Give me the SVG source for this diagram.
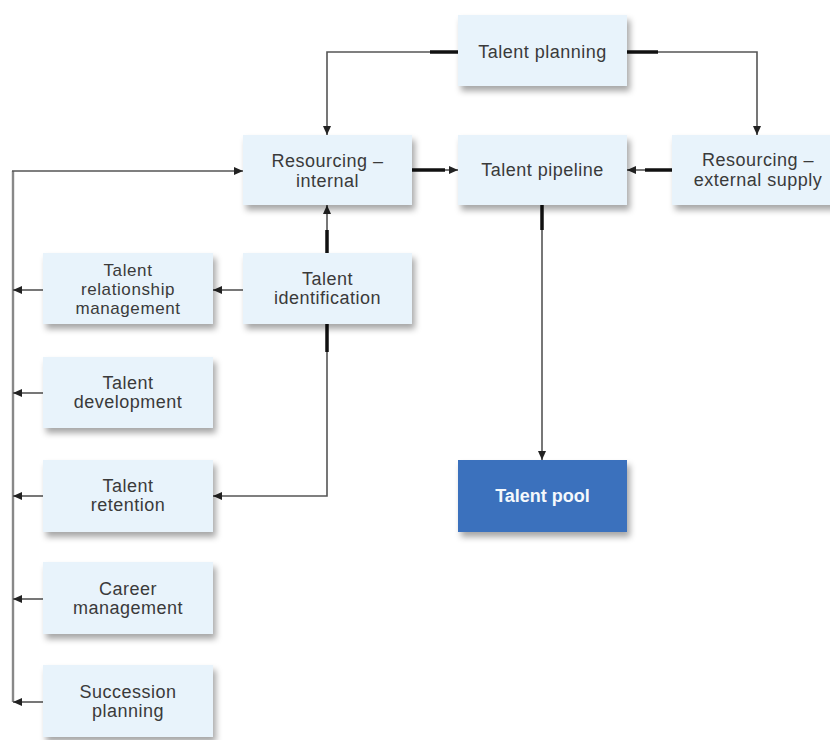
<svg xmlns="http://www.w3.org/2000/svg" width="830" height="740" viewBox="0 0 830 740">
<defs>
<filter id="sh" x="-10%" y="-10%" width="130%" height="140%">
<feDropShadow dx="3" dy="5" stdDeviation="3" flood-color="#000" flood-opacity="0.35"/>
</filter>
<marker id="ah" markerUnits="userSpaceOnUse" markerWidth="9" markerHeight="8" refX="9" refY="4" orient="auto">
<path d="M0,0 L9,4 L0,8 Z" fill="#222"/>
</marker>
</defs>
<style>
.box{fill:#e8f3fb;filter:url(#sh)}
.pool{fill:#3b71bd;filter:url(#sh)}
.t{font-family:"Liberation Sans",Arial,sans-serif;font-size:18px;fill:#3a3a3a;text-anchor:middle;letter-spacing:0.5px}
.ts{font-family:"Liberation Sans",Arial,sans-serif;font-size:17px;fill:#3a3a3a;text-anchor:middle;letter-spacing:0.6px}
.tw{font-family:"Liberation Sans",Arial,sans-serif;font-size:18px;font-weight:bold;fill:#f4f8fc;text-anchor:middle}
.ln{fill:none;stroke:#555;stroke-width:1.6}
.sp{fill:none;stroke:#888;stroke-width:2.4}
.tk{fill:none;stroke:#111;stroke-width:3.5}
</style>
<rect width="830" height="740" fill="#fff"/>
<g id="connectors">
<path class="ln" d="M430,52 H327 V135" marker-end="url(#ah)"/>
<path class="tk" d="M458,52 H430"/>
<path class="ln" d="M658,52 H757 V135" marker-end="url(#ah)"/>
<path class="tk" d="M627,52 H658"/>
<path class="ln" d="M445,170 H458" marker-end="url(#ah)"/>
<path class="tk" d="M412,170 H445"/>
<path class="ln" d="M645,170 H627" marker-end="url(#ah)"/>
<path class="tk" d="M672,170 H645"/>
<path class="ln" d="M542,230 V460" marker-end="url(#ah)"/>
<path class="tk" d="M542,205 V230"/>
<path class="ln" d="M327,230 V205" marker-end="url(#ah)"/>
<path class="tk" d="M327,253 V230"/>
<path class="ln" d="M243,290 H213" marker-end="url(#ah)"/>
<path class="ln" d="M327,352 V496 H213" marker-end="url(#ah)"/>
<path class="tk" d="M327,324 V352"/>
<path class="sp" d="M13,702 V171"/>
<path class="ln" d="M12,171 H243" marker-end="url(#ah)"/>
<path class="ln" d="M43,290 H13" marker-end="url(#ah)"/>
<path class="ln" d="M43,393 H13" marker-end="url(#ah)"/>
<path class="ln" d="M43,496 H13" marker-end="url(#ah)"/>
<path class="ln" d="M43,599 H13" marker-end="url(#ah)"/>
<path class="ln" d="M43,702 H13" marker-end="url(#ah)"/>
</g>
<g id="talent-planning"><rect class="box" x="458" y="15" width="169" height="71"/><text class="t" x="542.5" y="58">Talent planning</text></g>
<g id="resourcing-internal"><rect class="box" x="243" y="135" width="169" height="70"/><text class="t" x="327.5" y="167">Resourcing –</text><text class="t" x="327.5" y="187">internal</text></g>
<g id="talent-pipeline"><rect class="box" x="458" y="135" width="169" height="70"/><text class="t" x="542.5" y="176">Talent pipeline</text></g>
<g id="resourcing-external"><rect class="box" x="672" y="135" width="170" height="70"/><text class="t" x="758" y="166">Resourcing –</text><text class="t" x="758" y="186">external supply</text></g>
<g id="talent-identification"><rect class="box" x="243" y="253" width="169" height="71"/><text class="t" x="327.5" y="285">Talent</text><text class="t" x="327.5" y="304">identification</text></g>
<g id="talent-relationship-management"><rect class="box" x="43" y="253" width="170" height="71"/><text class="ts" x="128" y="276">Talent</text><text class="ts" x="128" y="295">relationship</text><text class="ts" x="128" y="314">management</text></g>
<g id="talent-development"><rect class="box" x="43" y="357" width="170" height="71"/><text class="t" x="128" y="389">Talent</text><text class="t" x="128" y="408">development</text></g>
<g id="talent-retention"><rect class="box" x="43" y="460" width="170" height="72"/><text class="t" x="128" y="492">Talent</text><text class="t" x="128" y="511">retention</text></g>
<g id="career-management"><rect class="box" x="43" y="562" width="170" height="72"/><text class="t" x="128" y="595">Career</text><text class="t" x="128" y="614">management</text></g>
<g id="succession-planning"><rect class="box" x="43" y="665" width="170" height="72"/><text class="t" x="128" y="698">Succession</text><text class="t" x="128" y="717">planning</text></g>
<g id="talent-pool"><rect class="pool" x="458" y="460" width="169" height="72"/><text class="tw" x="542.5" y="502">Talent pool</text></g>
</svg>
